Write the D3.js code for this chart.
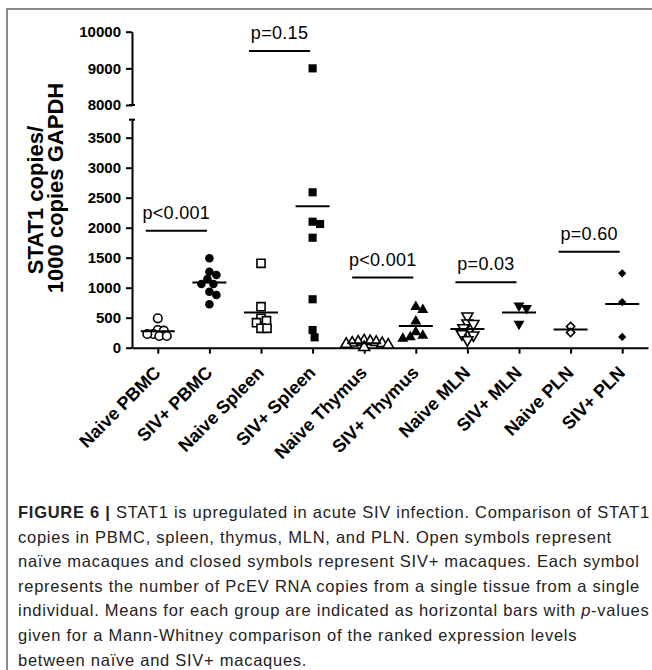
<!DOCTYPE html>
<html>
<head>
<meta charset="utf-8">
<script src="https://cdn.jsdelivr.net/npm/d3@7"></script>
<style>
  body { margin: 0; background: #fff; }
  svg { display: block; }
</style>
</head>
<body>
<svg width="652" height="670"></svg>
<script>
// ---- data ----
const categories = ["Naive PBMC", "SIV+ PBMC", "Naive Spleen", "SIV+ Spleen", "Naive Thymus",
                    "SIV+ Thymus", "Naive MLN", "SIV+ MLN", "Naive PLN", "SIV+ PLN"];

const naivePBMC   = [490, 295, 283, 228, 195, 195, 228];
const sivPBMC     = [1490, 1267, 1212, 1145, 1062, 1062, 933, 878, 725];
const naiveSpleen = [1407, 683, 490, 450, 417, 323, 323];
const sivSpleen   = [9000, 2590, 2100, 2062, 1833, 807, 295, 173];
const naiveThymus = [115, 105, 95, 90, 80, 70, 60, 45, 5];
const sivThymus   = [680, 630, 440, 260, 200, 175, 150];
const naiveMLN    = [525, 410, 400, 330, 260, 230, 210, 130];
const sivMLN      = [700, 660, 395];
const naivePLN    = [355, 255];
const sivPLN      = [1240, 760, 180];

const groupValues = [naivePBMC, sivPBMC, naiveSpleen, sivSpleen, naiveThymus,
                     sivThymus, naiveMLN, sivMLN, naivePLN, sivPLN];

const yTicksLow  = [0, 500, 1000, 1500, 2000, 2500, 3000, 3500];
const yTicksHigh = [8000, 9000, 10000];

// comparisons: naive vs SIV+ for each tissue
const pPairs  = [[0, 1], [2, 3], [4, 5], [6, 7], [8, 9]];
const pLabels = ["p<0.001", "p=0.15", "p<0.001", "p=0.03", "p=0.60"];
const pLevels = [1950, 9470, 1170, 1090, 1600];

const captionLines = [
  "STAT1 is upregulated in acute SIV infection. Comparison of STAT1",
  "copies in PBMC, spleen, thymus, MLN, and PLN. Open symbols represent",
  "naïve macaques and closed symbols represent SIV+ macaques. Each symbol",
  "represents the number of PcEV RNA copies from a single tissue from a single",
  "individual. Means for each group are indicated as horizontal bars with ",
  "given for a Mann-Whitney comparison of the ranked expression levels",
  "between naïve and SIV+ macaques."
];

// ---- layout ----
const svg = d3.select("svg");
const font = "'Liberation Sans', Arial, Helvetica, sans-serif";
const axisX = 132, axisY = 347.7;

// frame
svg.append("path")
  .attr("d", "M7,670 V9 H652")
  .attr("fill", "none").attr("stroke", "#8c8c8c").attr("stroke-width", 2);

const x = d3.scalePoint().domain(categories).range([axisX, 648]).padding(0.5);
const yLow  = d3.scaleLinear().domain([0, 3800]).range([axisY, 119.7]);
const yHigh = d3.scaleLinear().domain([8000, 10000]).range([105, 31.7]);
const y = v => v >= 8000 ? yHigh(v) : yLow(v);

// axes
function styleAxis(g) {
  g.select(".domain").attr("stroke", "#000").attr("stroke-width", 2);
  g.selectAll(".tick line").attr("stroke", "#000").attr("stroke-width", 2);
  g.selectAll(".tick text")
    .attr("font-family", font).attr("font-size", 15).attr("font-weight", "bold").attr("fill", "#000");
}

svg.append("g").attr("transform", `translate(${axisX},0)`)
  .call(d3.axisLeft(yLow).tickValues(yTicksLow).tickFormat(d3.format("d"))
    .tickSize(6).tickSizeOuter(0).tickPadding(5))
  .call(styleAxis);
svg.append("g").attr("transform", `translate(${axisX},0)`)
  .call(d3.axisLeft(yHigh).tickValues(yTicksHigh).tickFormat(d3.format("d"))
    .tickSize(6).tickSizeOuter(0).tickPadding(5))
  .call(styleAxis);

// break caps
[yLow(3800), yHigh(8000)].forEach(yy => {
  svg.append("line").attr("x1", axisX - 3).attr("x2", axisX + 3)
    .attr("y1", yy).attr("y2", yy).attr("stroke", "#000").attr("stroke-width", 2);
});

svg.append("g").attr("transform", `translate(0,${axisY})`)
  .call(d3.axisBottom(x).tickSize(6).tickSizeOuter(0).tickFormat(""))
  .call(styleAxis);

svg.append("g").selectAll("text")
  .data(categories)
  .join("text")
  .attr("transform", d => `translate(${x(d) + 4},${axisY + 26}) rotate(-45)`)
  .attr("text-anchor", "end")
  .attr("font-family", font).attr("font-size", 18).attr("font-weight", "bold")
  .text(d => d);

// y axis title (two lines)
svg.append("text")
  .attr("transform", "translate(43,200) rotate(-90)")
  .attr("text-anchor", "middle")
  .attr("font-family", font).attr("font-size", 22).attr("font-weight", "bold")
  .text("STAT1 copies/");
svg.append("text")
  .attr("transform", "translate(63,188) rotate(-90)")
  .attr("text-anchor", "middle")
  .attr("font-family", font).attr("font-size", 22).attr("font-weight", "bold")
  .text("1000 copies GAPDH");

// ---- points (simple beeswarm so overlapping values spread sideways) ----
function swarm(values, minDist) {
  const placed = [];
  values.forEach(v => {
    const py = y(v);
    for (let k = 0; k < 400; k++) {
      const dx = (k % 2 ? 1 : -1) * Math.ceil(k / 2) * 0.5;
      if (placed.every(p => Math.hypot(dx - p.dx, py - p.py) >= minDist)) {
        placed.push({v, dx, py});
        break;
      }
    }
  });
  return placed;
}

const symbolFor = i => {
  const kind = Math.floor(i / 2);
  if (kind === 0) return {type: d3.symbolCircle, size: 58, rot: 0};
  if (kind === 1) return {type: d3.symbolSquare, size: 66, rot: 0};
  if (kind === 2) return {type: d3.symbolTriangle, size: 52, rot: 0};
  if (kind === 3) return {type: d3.symbolTriangle, size: 52, rot: 180};
  return {type: d3.symbolSquare, size: 34, rot: 45};
};

const pointsG = svg.append("g");
groupValues.forEach((vals, i) => {
  const cat = categories[i];
  const open = cat.startsWith("Naive");
  const s = symbolFor(i);
  const pts = swarm(vals, open ? 6 : 7.5);
  pointsG.append("g").selectAll("path")
    .data(pts)
    .join("path")
    .attr("transform", d => `translate(${x(cat) + d.dx},${d.py}) rotate(${s.rot})`)
    .attr("d", d3.symbol().type(s.type).size(s.size))
    .attr("fill", open ? "#fff" : "#000")
    .attr("stroke", "#000")
    .attr("stroke-width", open ? 1.6 : 0);

  const m = d3.mean(vals);
  svg.append("line")
    .attr("x1", x(cat) - 17).attr("x2", x(cat) + 17)
    .attr("y1", y(m)).attr("y2", y(m))
    .attr("stroke", "#000").attr("stroke-width", 2);
});

// ---- p-value annotations ----
pPairs.forEach(([a, b], i) => {
  const x1 = x(categories[a]) - 12, x2 = x(categories[b]) - 2.5;
  const yy = y(pLevels[i]);
  svg.append("line").attr("x1", x1).attr("x2", x2).attr("y1", yy).attr("y2", yy)
    .attr("stroke", "#000").attr("stroke-width", 2);
  svg.append("text")
    .attr("x", (x1 + x2) / 2).attr("y", yy - 12)
    .attr("text-anchor", "middle")
    .attr("font-family", font).attr("font-size", 18).attr("letter-spacing", 0.3)
    .text(pLabels[i]);
});

// ---- caption ----
const capG = svg.append("g")
  .attr("font-family", font).attr("font-size", 16.5).attr("fill", "#222");
const baseY = 518, lineH = 24.6, capX = 18;
captionLines.forEach((line, i) => {
  const t = capG.append("text").attr("x", capX).attr("y", baseY + i * lineH);
  if (i === 0) t.append("tspan").attr("font-weight", "bold").text("FIGURE 6 | ");
  t.append("tspan").text(line);
  if (i === 4) {
    t.append("tspan").attr("font-style", "italic").text("p");
    t.append("tspan").text("-values");
  }
});
// adjust letter spacing so the full line matches the reference width
const ref = capG.selectAll("text").filter((d, i) => i === 3);
const w = ref.node().getComputedTextLength();
const n = captionLines[3].length;
capG.attr("letter-spacing", Math.max(-0.5, (622 - w) / n));
</script>
</body>
</html>
